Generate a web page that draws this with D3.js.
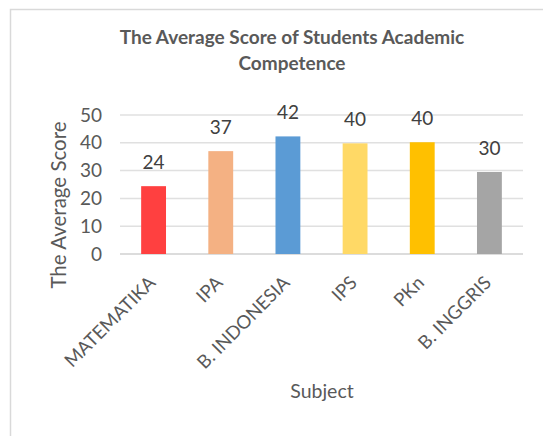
<!DOCTYPE html>
<html>
<head>
<meta charset="utf-8">
<script src="https://cdn.jsdelivr.net/npm/d3@7"></script>
<style>
    body { margin: 0; background: #fff; }
    svg { display: block; font-family: Lato, "Open Sans", sans-serif; }
</style>
</head>
<body>
<div class="chart"></div>
<script>
var subjects = ["MATEMATIKA", "IPA", "B. INDONESIA", "IPS", "PKn", "B. INGGRIS"];
var scores = [24.4, 37, 42.3, 39.8, 40.2, 29.5];
var barColors = ["#ff4040", "#f4b183", "#5b9bd5", "#ffd966", "#ffc000", "#a5a5a5"];
var yTicks = [0, 10, 20, 30, 40, 50];

var width = 543, height = 436;
var margin = { top: 115, right: 20, bottom: 182, left: 120 };

var svg = d3.select(".chart")
    .append("svg")
    .attr("width", width)
    .attr("height", height);

// outer chart border (cut off on the right and bottom)
svg.append("rect")
    .attr("x", 10.5)
    .attr("y", 9.5)
    .attr("width", 700)
    .attr("height", 600)
    .attr("fill", "none")
    .attr("stroke", "#d9d9d9")
    .attr("stroke-width", 1.5);

var title = svg.append("text")
    .attr("text-anchor", "middle")
    .attr("fill", "#595959")
    .attr("font-size", 19)
    .attr("font-weight", "bold");
title.append("tspan").attr("x", 292).attr("y", 44).text("The Average Score of Students Academic");
title.append("tspan").attr("x", 292).attr("y", 70).text("Competence");

var x = d3.scaleBand()
    .domain(subjects)
    .range([margin.left, width - margin.right])
    .paddingInner(0.63)
    .paddingOuter(0.315);

var y = d3.scaleLinear()
    .domain([0, 50])
    .range([height - margin.bottom, margin.top]);

// gridlines
svg.append("g")
    .selectAll("line")
    .data(yTicks)
    .enter()
    .append("line")
    .attr("x1", margin.left)
    .attr("x2", width - margin.right)
    .attr("y1", function (d) { return y(d); })
    .attr("y2", function (d) { return y(d); })
    .attr("stroke", function (d) { return d === 0 ? "#d0d0d0" : "#e0e0e0"; })
    .attr("stroke-width", 1.5);

var yAxis = svg.append("g")
    .attr("transform", "translate(" + margin.left + ",0)")
    .call(d3.axisLeft(y).tickValues(yTicks).tickSize(0).tickPadding(18));
yAxis.select(".domain").remove();
yAxis.selectAll("text")
    .attr("fill", "#595959")
    .attr("font-size", 19)
    .attr("font-family", "Lato, 'Open Sans', sans-serif");

svg.selectAll(".bar")
    .data(scores)
    .enter()
    .append("rect")
    .attr("class", "bar")
    .attr("x", function (d, i) { return x(subjects[i]); })
    .attr("y", function (d) { return y(d); })
    .attr("width", x.bandwidth())
    .attr("height", function (d) { return y(0) - y(d); })
    .attr("fill", function (d, i) { return barColors[i]; });

svg.selectAll(".value")
    .data(scores)
    .enter()
    .append("text")
    .attr("class", "value")
    .attr("x", function (d, i) { return x(subjects[i]) + x.bandwidth() / 2; })
    .attr("y", function (d) { return y(d) - 17; })
    .attr("text-anchor", "middle")
    .attr("fill", "#404040")
    .attr("font-size", 19)
    .text(d3.format(".0f"));

var xAxis = svg.append("g")
    .attr("transform", "translate(0," + y(0) + ")")
    .call(d3.axisBottom(x).tickSize(0).tickPadding(0));
xAxis.select(".domain").remove();
xAxis.selectAll("text")
    .attr("fill", "#595959")
    .attr("font-size", 18.5)
    .attr("font-family", "Lato, 'Open Sans', sans-serif")
    .attr("text-anchor", "end")
    .attr("dy", null)
    .attr("y", 0)
    .attr("transform", "translate(3,30) rotate(-45)");

svg.append("text")
    .attr("x", 322)
    .attr("y", 398)
    .attr("text-anchor", "middle")
    .attr("fill", "#595959")
    .attr("font-size", 19.5)
    .text("Subject");

svg.append("text")
    .attr("transform", "translate(66,205) rotate(-90)")
    .attr("text-anchor", "middle")
    .attr("fill", "#595959")
    .attr("font-size", 20.5)
    .text("The Average Score");
</script>
</body>
</html>
